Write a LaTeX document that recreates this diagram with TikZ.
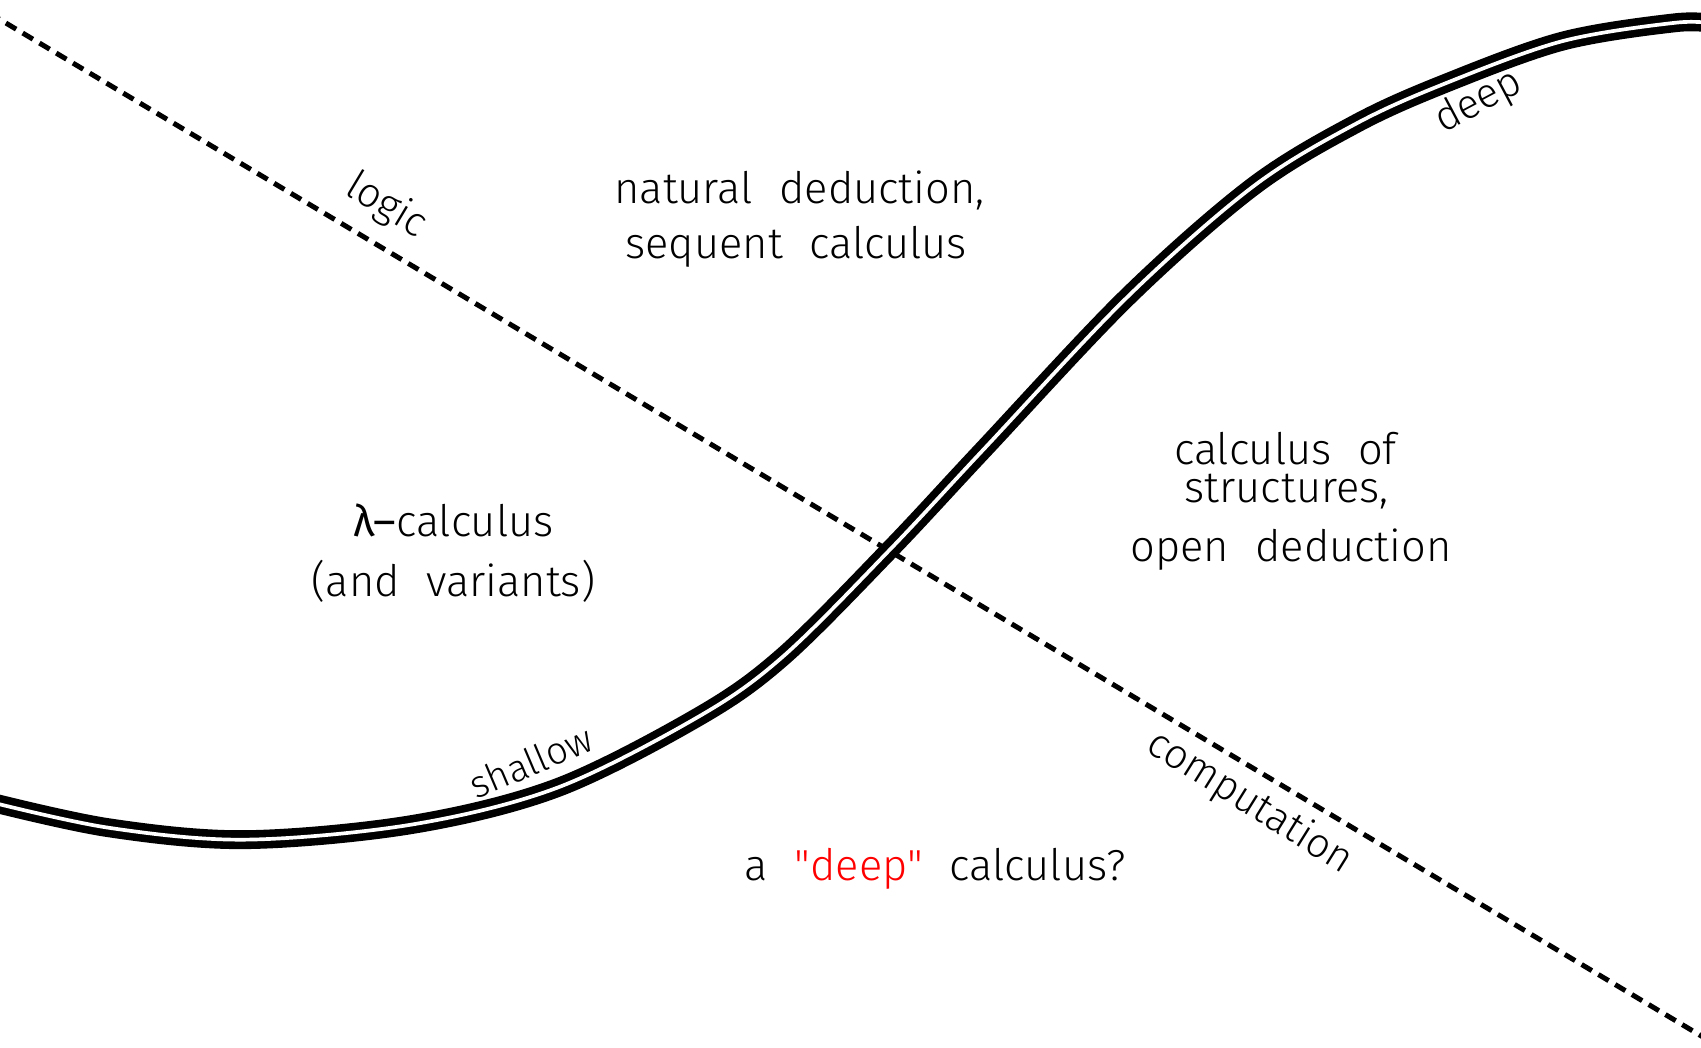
\documentclass[tikz,border=0pt]{standalone}
\usepackage{fontspec}
\setmainfont{Fira Sans}[UprightFont={* Light}, BoldFont={*}, WordSpace=2.2]
\begin{document}
\begin{tikzpicture}[x=1pt,y=-1pt,
  lbl/.style={font=\fontsize{40}{48}\selectfont, inner sep=0pt, anchor=base},
  tag/.style={font=\fontsize{38}{44}\selectfont, inner sep=0pt, anchor=center},
  axisline/.style={line width=4.6pt, dash pattern=on 11pt off 7pt},
  scurve/.style={line width=7pt, double=white, double distance=3.4pt}]
\useasboundingbox (0,0) rectangle (1568,966);
\clip (0,0) rectangle (1568,966);
% dashed axis
\coordinate (dA) at (-10,12);
\coordinate (dB) at (1580,962);
\draw[axisline] (dA) -- (dB);
% S-shaped double curve
\draw[scurve] plot[smooth, tension=0.55] coordinates {
  (-10,739) (100,763) (226,774) (380,760) (514,726) (645,660) (722,605)
  (820,507) (906,415) (1039,274) (1155,172) (1250,114) (1332,77) (1440,38) (1544,21) (1580,22)};
% labels on lines
\node[tag, rotate=-31] (logic) at (356,190) {logic};
\node[tag, rotate=-32] (comp) at (1152,740) {computation};
\node[tag, rotate=28] (deep) at (1363,94) {deep};
\node[tag, rotate=23, font=\fontsize{35}{40}\selectfont] (shallow) at (489,702) {shallow};
% region texts
\node[lbl] (nd) at (737,188) {natural deduction,};
\node[lbl] (sc) at (734,238) {sequent calculus};
\node[lbl] (lam) at (418,495) {{\bfseries λ–}calculus};
\node[lbl] (var) at (418,550) {(and variants)};
\node[lbl] (cos1) at (1185,428) {calculus of};
\node[lbl] (cos2) at (1186,463) {structures,};
\node[lbl] (od) at (1190,518) {open deduction};
\node[lbl] (dc) at (862,812) {a {\color{red}\textquotedbl deep\textquotedbl} calculus?};
\end{tikzpicture}
\end{document}
